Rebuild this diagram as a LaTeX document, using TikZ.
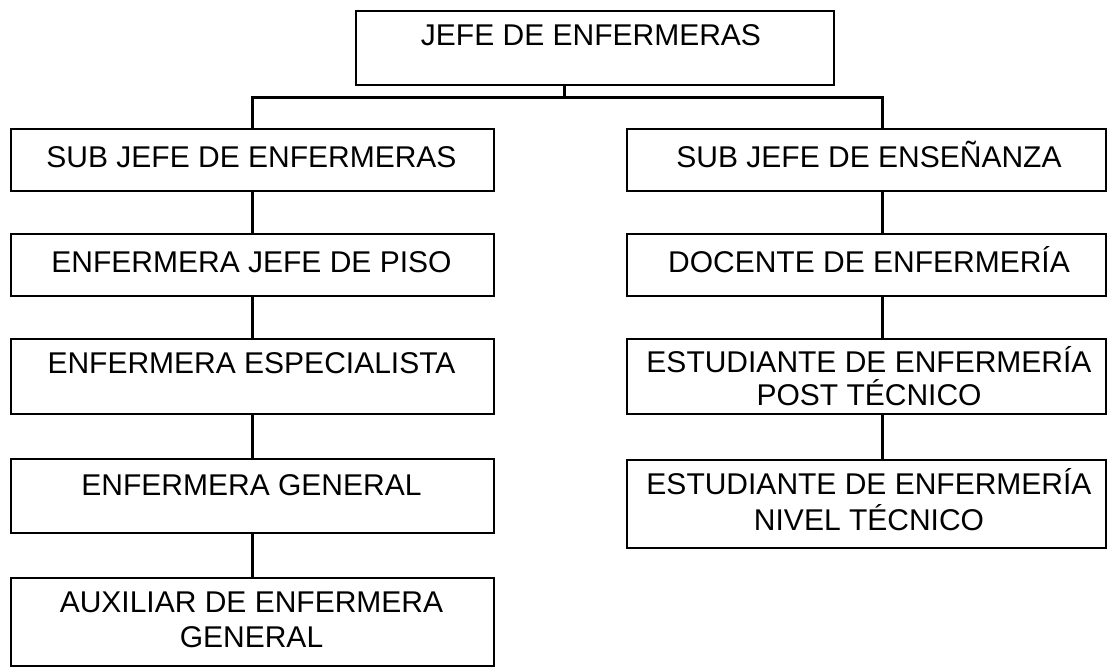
\documentclass[tikz,border=0pt]{standalone}
\usepackage{fontspec}
\setmainfont{Liberation Sans}
\begin{document}
\begin{tikzpicture}[x=1pt,y=-1pt,
  box/.style={draw=black, line width=1.5pt, rectangle, inner sep=0pt, anchor=north west},
  lbl/.style={font=\fontsize{30}{36}\selectfont, anchor=base, inner sep=0pt},
  conn/.style={draw=black, line width=3pt}]
\useasboundingbox (0,0) rectangle (1115,667);
% top
\node[box, minimum width=478pt, minimum height=74pt] (jefe) at (355,10) {};
\node[lbl] (jefet) at (591,45) {JEFE DE ENFERMERAS};
% left column
\node[box, minimum width=483pt, minimum height=62pt] (l1) at (10,128) {};
\node[box, minimum width=483pt, minimum height=62pt] (l2) at (10,233) {};
\node[box, minimum width=483pt, minimum height=75pt] (l3) at (10,338) {};
\node[box, minimum width=483pt, minimum height=74pt] (l4) at (10,458) {};
\node[box, minimum width=483pt, minimum height=88pt] (l5) at (10,577) {};
\node[lbl] (l1t) at (251.5,167) {SUB JEFE DE ENFERMERAS};
\node[lbl] (l2t) at (251.5,272) {ENFERMERA JEFE DE PISO};
\node[lbl] (l3t) at (251.5,373) {ENFERMERA ESPECIALISTA};
\node[lbl] (l4t) at (251.5,495) {ENFERMERA GENERAL};
\node[lbl] (l5t) at (251.5,612) {AUXILIAR DE ENFERMERA};
\node[lbl] (l5u) at (251.5,647) {GENERAL};
% right column
\node[box, minimum width=479pt, minimum height=62pt] (r1) at (626,128) {};
\node[box, minimum width=479pt, minimum height=62pt] (r2) at (626,233) {};
\node[box, minimum width=479pt, minimum height=75pt] (r3) at (626,338) {};
\node[box, minimum width=479pt, minimum height=88pt] (r4) at (626,459) {};
\node[lbl] (r1t) at (869,167) {SUB JEFE DE ENSEÑANZA};
\node[lbl] (r2t) at (869,272) {DOCENTE DE ENFERMERÍA};
\node[lbl] (r3t) at (869,372) {ESTUDIANTE DE ENFERMERÍA};
\node[lbl] (r3u) at (869,405) {POST TÉCNICO};
\node[lbl] (r4t) at (869,494) {ESTUDIANTE DE ENFERMERÍA};
\node[lbl] (r4u) at (869,530) {NIVEL TÉCNICO};
% connectors
\coordinate (bar) at (564,97);
\coordinate (rc) at (882,0);
\draw[conn] (jefe.south -| bar) -- (bar);
\draw[conn] (l1.north) |- (bar) -| (r1.north -| rc);
\draw[conn] (l1.south) -- (l2.north);
\draw[conn] (l2.south) -- (l3.north);
\draw[conn] (l3.south) -- (l4.north);
\draw[conn] (l4.south) -- (l5.north);
\draw[conn] (r1.south -| rc) -- (r2.north -| rc);
\draw[conn] (r2.south -| rc) -- (r3.north -| rc);
\draw[conn] (r3.south -| rc) -- (r4.north -| rc);
\end{tikzpicture}
\end{document}
